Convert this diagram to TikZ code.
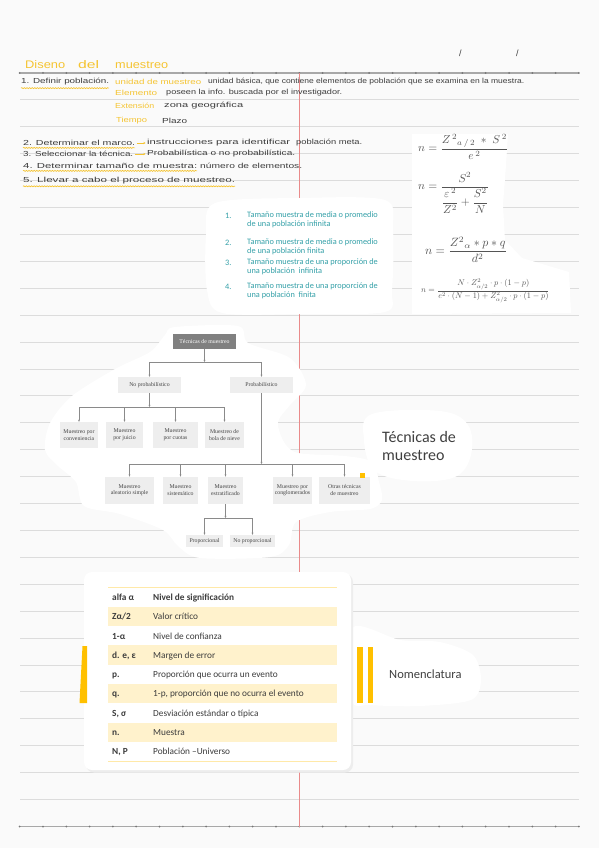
\documentclass[tikz,border=0pt]{standalone}
\usepackage[no-math]{fontspec}
\usepackage{amsmath}
\usepackage{graphicx}
\usetikzlibrary{arrows.meta,decorations.pathmorphing}
\newfontfamily\handf{Liberation Sans}
\newfontfamily\carl{Carlito}
\newfontfamily\tser{Liberation Serif}
\definecolor{pagebg}{HTML}{FAFAFA}
\definecolor{rulec}{HTML}{DCDCDC}
\definecolor{dotc}{HTML}{A8A8A8}
\definecolor{redm}{HTML}{E98A8A}
\definecolor{hly}{HTML}{F5C431}
\definecolor{ink}{HTML}{3C3C3C}
\definecolor{tealc}{RGB}{52,160,168}
\definecolor{barY}{HTML}{FFC000}
\definecolor{rowY}{HTML}{FFF2CC}
\definecolor{rowL}{HTML}{FFE9A8}
\definecolor{tgray}{HTML}{808080}
\definecolor{boxg}{HTML}{EEEEEE}
\definecolor{lineg}{HTML}{8A8A8A}
\definecolor{txg}{HTML}{444444}
\definecolor{fgray}{HTML}{555555}
\definecolor{lbl}{HTML}{404040}
\newcommand{\hw}[2]{\resizebox{#1pt}{\height}{#2}}
\tikzset{
  hand/.style={inner sep=0pt, anchor=west, font=\handf\fontsize{7.3}{8}\selectfont, text=ink},
  handy/.style={hand, text=hly},
  wavy/.style={hly, line width=0.7pt, decorate, decoration={snake, amplitude=0.5pt, segment length=2.6pt}},
  tbox/.style={fill=boxg, font=\tser\fontsize{5.8}{6.6}\selectfont, text=txg, align=center, inner sep=0pt},
  conn/.style={draw=lineg, line width=0.7pt},
  arr/.style={conn, -{Stealth[length=2.2pt,width=1.9pt]}},
  fml/.style={inner sep=0pt, anchor=base west, text=fgray},
  lst/.style={inner sep=0pt, font=\carl\fontsize{8.3}{9}\selectfont, text=tealc, align=left},
  tcell/.style={inner sep=0pt, anchor=base west, font=\carl\fontsize{9.3}{11}\selectfont, text=ink},
  patch/.style={fill=white}
}
\begin{document}
\begin{tikzpicture}[x=1pt,y=-1pt]
\fill[pagebg] (0,0) rectangle (599,848);
\useasboundingbox (0,0) rectangle (599,848);
% ruled lines
\foreach \k in {1,...,27} \draw[rulec, line width=0.9pt] (20,{73+26.91*\k}) -- (579,{73+26.91*\k});
\foreach \yy in {73,826.5} {
  \draw[dotc, line width=1.1pt] (20,\yy) -- (579,\yy);
  \foreach \i in {0,...,24} \fill[dotc!70!black] ({19.7+23.3*\i},\yy) circle (1pt);
}
\draw[redm, line width=0.7pt] (299.3,73) -- (299.3,826.5);

% white pasted patches
\fill[patch] (412,134) -- (508,134) -- (506,165) -- (503,205) -- (505,240) -- (522,258) -- (569,272) -- (571,313) -- (412,314) -- cycle;
\fill[patch] plot[smooth cycle, tension=0.5] coordinates {(215,203) (300,198) (385,200) (393,230) (392,290) (385,312) (300,314) (222,313) (207,290) (206,235)};
\fill[patch] plot[smooth cycle, tension=0.5] coordinates {(175,327) (238,326) (248,343) (290,358) (306,385) (290,405) (278,422) (284,442) (298,453) (345,456) (372,462) (379,482) (382,500) (370,509) (330,512) (296,522) (289,545) (270,557) (200,558) (178,546) (163,530) (120,514) (84,506) (76,482) (58,466) (45,450) (50,423) (72,396) (115,369) (150,352) (165,335)};
\fill[patch] plot[smooth cycle, tension=0.6] coordinates {(372,414) (440,411) (468,425) (471,455) (455,477) (413,481) (375,471) (364,440)};
\fill[patch] plot[smooth cycle, tension=0.5] coordinates {(352,628) (400,640) (440,642) (473,655) (481,680) (471,700) (420,706) (370,705) (352,700)};
\fill[black!7, rounded corners=8pt] (86,574) rectangle (353,772.5);
\fill[patch, rounded corners=8pt] (84,572) rectangle (351,770);

% header
\node[handy, font=\handf\fontsize{11}{12}\selectfont] (ti1) at (25,65) {\hw{40}{Diseno}};
\node[handy, font=\handf\fontsize{11}{12}\selectfont] (ti2) at (78,65) {\hw{21}{del}};
\node[handy, font=\handf\fontsize{11}{12}\selectfont] (ti3) at (115,65) {\hw{53}{muestreo}};
\node[hand, font=\handf\fontsize{9}{10}\selectfont] (sl1) at (459,53) {/};
\node[hand, font=\handf\fontsize{9}{10}\selectfont] (sl2) at (516,53) {/};

% step 1
\node[hand] (r1a) at (21,82) {\hw{88}{1. Definir población.}};
\node[handy] (r1b) at (115,82) {\hw{86}{unidad de muestreo}};
\node[hand] (r1c) at (208,82) {\hw{316}{unidad básica, que contiene elementos de población que se examina en la muestra.}};
\node[handy] (r2a) at (115,93) {\hw{42}{Elemento}};
\node[hand] (r2b) at (166,93) {\hw{176}{poseen la info. buscada por el investigador.}};
\node[handy] (r3a) at (115,106) {\hw{39}{Extensión}};
\node[hand] (r3b) at (164,106) {\hw{79}{zona geográfica}};
\node[handy] (r4a) at (116,121) {\hw{31}{Tiempo}};
\node[hand] (r4b) at (162,121) {\hw{25}{Plazo}};
\draw[wavy] (r1a.south west) ++(0,2.5) -- ++(88,0);

% steps 2-5
\node[hand] (s2a) at (23,143) {\hw{112}{2. Determinar el marco.}};
\node[hand] (s2b) at (147,143) {\hw{143}{instrucciones para identificar}};
\node[hand] (s2c) at (296,143) {\hw{66}{población meta.}};
\node[hand] (s3a) at (23,154) {\hw{110}{3. Seleccionar la técnica.}};
\node[hand] (s3b) at (147,154) {\hw{148}{Probabilística o no probabilística.}};
\node[hand] (s4a) at (23,166) {\hw{174}{4. Determinar tamaño de muestra:}};
\node[hand] (s4b) at (200,166) {\hw{102}{número de elementos.}};
\node[hand] (s5a) at (23,180.7) {\hw{212}{5. Llevar a cabo el proceso de muestreo.}};
\draw[hly, line width=0.7pt, -{Stealth[length=2pt,width=2pt]}] ([xshift=1.5pt]s2a.east) -- ([xshift=-1.5pt]s2b.west);
\draw[hly, line width=0.7pt, -{Stealth[length=2pt,width=2pt]}] ([xshift=1.5pt]s3a.east) -- ([xshift=-1.5pt]s3b.west);
\draw[wavy] (s2a.south west) ++(0,2) -- ++(112,0);
\draw[wavy] (s4a.south west) ++(0,2) -- ++(174,0);
\draw[wavy] (s5a.south west) ++(0,2) -- ++(212,0);

% formulas
\node[fml] (f1) at (418,151.9) {\scalebox{1.15}{$n=\dfrac{Z^{\,2}{}_{a\,/\,2}\;\ast\;S^{\,2}}{e^{\,2}}$}};
\node[fml] (f2) at (418,189.9) {\scalebox{1.15}{$n=\dfrac{S^{2}}{\dfrac{\varepsilon^{\,2}}{Z^{2}}+\dfrac{S^{2}}{N}}$}};
\node[fml] (f3) at (425,254.7) {\scalebox{1.2}{$n=\dfrac{Z^{2}{}_{\alpha}*p*q}{d^{2}}$}};
\node[fml] (f4) at (421,292.8) {\scalebox{0.83}{$n=\dfrac{N\cdot Z^2_{\alpha/2}\cdot p\cdot(1-p)}{e^2\cdot(N-1)+Z^2_{\alpha/2}\cdot p\cdot(1-p)}$}};

% numbered list
\node[lst, anchor=base west] (n1) at (225,218.5) {1.};
\node[lst, anchor=base west] (n2) at (225,245.5) {2.};
\node[lst, anchor=base west] (n3) at (225,265.5) {3.};
\node[lst, anchor=base west] (n4) at (225,289.5) {4.};
\node[lst, anchor=north west] (l1) at (247,212) {Tamaño muestra de media o promedio\\de una población infinita};
\node[lst, anchor=north west] (l2) at (247,239) {Tamaño muestra de media o promedio\\de una población finita};
\node[lst, anchor=north west] (l3) at (247,259) {Tamaño muestra de una proporción de\\una población \ infinita};
\node[lst, anchor=north west] (l4) at (247,283) {Tamaño muestra de una proporción de\\una población \ finita};

% tree
\node[tbox, fill=tgray, text=white, minimum width=63pt, minimum height=15pt] (top) at (204.5,341.5) {Técnicas de muestreo};
\node[tbox, minimum width=63pt, minimum height=16pt] (np) at (149.5,385) {No probabilístico};
\node[tbox, minimum width=63pt, minimum height=16pt] (pr) at (261.5,385) {Probabilístico};
\node[tbox, minimum width=38pt, minimum height=26pt] (c1) at (79,435) {Muestreo por\\conveniencia};
\node[tbox, minimum width=37pt, minimum height=26pt] (c2) at (124.5,435) {Muestreo\\por juicio};
\node[tbox, minimum width=45pt, minimum height=26pt] (c3) at (175.5,435) {Muestreo\\por cuotas};
\node[tbox, minimum width=39pt, minimum height=26pt] (c4) at (224.5,435) {Muestreo de\\bola de nieve};
\node[tbox, minimum width=49pt, minimum height=27pt] (a1) at (129.5,490.3) {Muestreo\\aleatorio simple};
\node[tbox, minimum width=35pt, minimum height=27pt] (a2) at (180.5,490.3) {Muestreo\\sistemático};
\node[tbox, minimum width=35pt, minimum height=27pt] (a3) at (225.5,490.3) {Muestreo\\estratificado};
\node[tbox, minimum width=39pt, minimum height=27pt] (a4) at (292.5,490.3) {Muestreo por\\conglomerados};
\node[tbox, minimum width=51pt, minimum height=27pt] (a5) at (344.5,490.3) {Otras técnicas\\de muestreo};
\node[tbox, minimum width=37pt, minimum height=12pt] (p1) at (204.5,541) {Proporcional};
\node[tbox, minimum width=45pt, minimum height=12pt] (p2) at (252.5,541) {No proporcional};
\fill[barY] (359.5,472.5) rectangle (364.5,477.5);

\coordinate (j1) at (204.5,362);
\coordinate (j2) at (149.5,407);
\coordinate (j3) at (261.5,464);
\coordinate (j4) at (225.5,518);
\draw[arr] (top.south) -- (j1);
\draw[conn] (np.north |- j1) -- (pr.north |- j1);
\draw[arr] (np.north |- j1) -- (np.north);
\draw[arr] (pr.north |- j1) -- (pr.north);
\draw[arr] (np.south) -- (j2);
\draw[conn] (c1.north |- j2) -- (c4.north |- j2);
\foreach \c in {c1,c2,c3,c4} \draw[arr] (\c.north |- j2) -- (\c.north);
\draw[arr] (pr.south) -- (j3);
\draw[conn] (a1.north |- j3) -- (a5.north |- j3);
\foreach \c in {a1,a2,a3,a4,a5} \draw[arr] (\c.north |- j3) -- (\c.north);
\draw[arr] (a3.south) -- (j4);
\draw[conn] (p1.north |- j4) -- (p2.north |- j4);
\foreach \c in {p1,p2} \draw[arr] (\c.north |- j4) -- (\c.north);

% labels
\node[inner sep=0pt, anchor=west, font=\carl\fontsize{16}{18}\selectfont, text=lbl, align=left] (lt) at (382,446) {Técnicas de\\muestreo};
\node[inner sep=0pt, anchor=west, font=\carl\fontsize{12.5}{14}\selectfont, text=lbl] (lnom) at (389,674) {Nomenclatura};

% yellow bars
\fill[barY] (82.5,646) -- (87,646) -- (87,703) -- (79.5,703) -- cycle;
\fill[barY] (357,647) rectangle (363,703);
\fill[barY] (368,647) rectangle (373,703);

% table
\foreach \i in {2,4,6,8} \fill[rowY] (108,{587.7+19.26*(\i-1)}) rectangle (337,{587.7+19.26*\i});
\draw[rowL, line width=0.8pt] (108,587.7) -- (337,587.7);
\draw[rowL, line width=0.8pt] (108,761) -- (337,761);
\node[tcell, font=\carl\bfseries\fontsize{9.3}{11}\selectfont] (t1a) at (112,600.4) {alfa α};
\node[tcell, font=\carl\bfseries\fontsize{9.3}{11}\selectfont] (t1b) at (153,600.4) {Nivel de significación};
\node[tcell, font=\carl\bfseries\fontsize{9.3}{11}\selectfont] (t2a) at (112,619.7) {Zα/2};
\node[tcell] (t2b) at (153,619.7) {Valor crítico};
\node[tcell, font=\carl\bfseries\fontsize{9.3}{11}\selectfont] (t3a) at (112,639) {1-α};
\node[tcell] (t3b) at (153,639) {Nivel de confianza};
\node[tcell, font=\carl\bfseries\fontsize{9.3}{11}\selectfont] (t4a) at (112,658.2) {d. e, ε};
\node[tcell] (t4b) at (153,658.2) {Margen de error};
\node[tcell, font=\carl\bfseries\fontsize{9.3}{11}\selectfont] (t5a) at (112,677.5) {p.};
\node[tcell] (t5b) at (153,677.5) {Proporción que ocurra un evento};
\node[tcell, font=\carl\bfseries\fontsize{9.3}{11}\selectfont] (t6a) at (112,696.7) {q.};
\node[tcell] (t6b) at (153,696.7) {1-p, proporción que no ocurra el evento};
\node[tcell, font=\carl\bfseries\fontsize{9.3}{11}\selectfont] (t7a) at (112,716) {S, σ};
\node[tcell] (t7b) at (153,716) {Desviación estándar o típica};
\node[tcell, font=\carl\bfseries\fontsize{9.3}{11}\selectfont] (t8a) at (112,735.3) {n.};
\node[tcell] (t8b) at (153,735.3) {Muestra};
\node[tcell, font=\carl\bfseries\fontsize{9.3}{11}\selectfont] (t9a) at (112,754.5) {N, P};
\node[tcell] (t9b) at (153,754.5) {Población –Universo};
\end{tikzpicture}
\end{document}
